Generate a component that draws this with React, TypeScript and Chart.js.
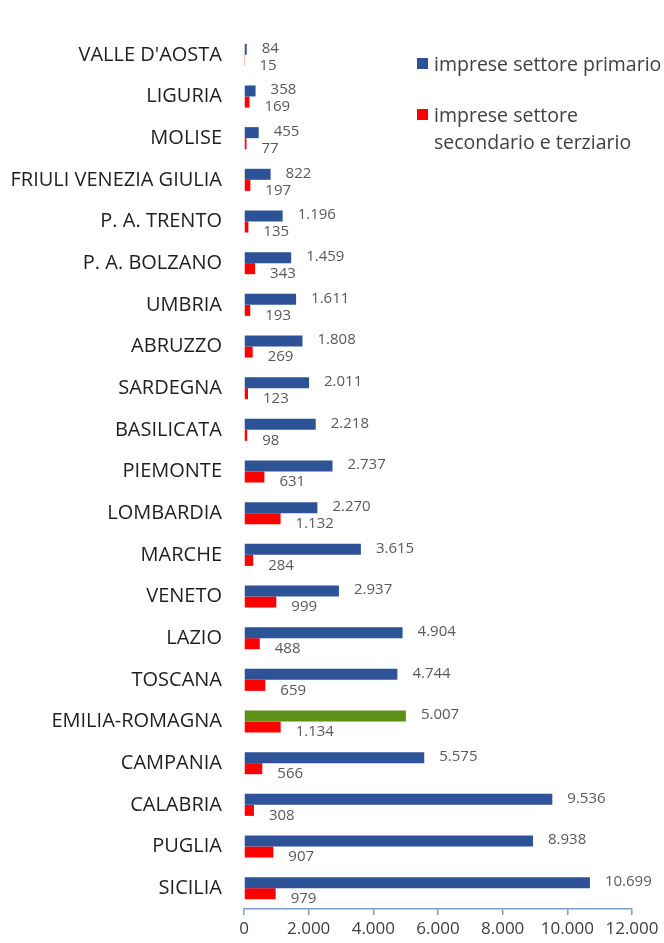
import React, { useEffect, useRef } from "react";
import { Chart, registerables } from "chart.js";

Chart.register(...registerables);

const categories = [
  "VALLE D'AOSTA", "LIGURIA", "MOLISE", "FRIULI VENEZIA GIULIA", "P. A. TRENTO",
  "P. A. BOLZANO", "UMBRIA", "ABRUZZO", "SARDEGNA", "BASILICATA", "PIEMONTE",
  "LOMBARDIA", "MARCHE", "VENETO", "LAZIO", "TOSCANA", "EMILIA-ROMAGNA",
  "CAMPANIA", "CALABRIA", "PUGLIA", "SICILIA",
];
const primario = [84, 358, 455, 822, 1196, 1459, 1611, 1808, 2011, 2218, 2737, 2270, 3615, 2937, 4904, 4744, 5007, 5575, 9536, 8938, 10699];
const secondarioTerziario = [15, 169, 77, 197, 135, 343, 193, 269, 123, 98, 631, 1132, 284, 999, 488, 659, 1134, 566, 308, 907, 979];
const seriesNames = ["imprese settore primario", "imprese settore secondario e terziario"];
const highlighted = "EMILIA-ROMAGNA";
const xTicks = [0, 2000, 4000, 6000, 8000, 10000, 12000];

const BLUE = "#2E5298";
const RED = "#FF0000";
const GREEN = "#5E8F16";
const FONT = "'Open Sans', sans-serif";

function fmt(n: number): string {
  const s = Math.round(n).toString();
  return s.replace(/\B(?=(\d{3})+(?!\d))/g, ".");
}

const dataLabels = {
  id: "dataLabels",
  afterDatasetsDraw(chart: any) {
    const ctx = chart.ctx;
    ctx.save();
    ctx.font = `15px ${FONT}`;
    ctx.fillStyle = "#595959";
    ctx.textAlign = "left";
    ctx.textBaseline = "middle";
    chart.data.datasets.forEach((ds: any, di: number) => {
      const meta = chart.getDatasetMeta(di);
      meta.data.forEach((bar: any, i: number) => {
        const dy = di === 0 ? -1 : 5;
        ctx.fillText(fmt(ds.data[i]), bar.x + 15, bar.y + dy);
      });
    });
    ctx.restore();
  },
};

export default function App() {
  const ref = useRef<HTMLCanvasElement | null>(null);
  useEffect(() => {
    if (!ref.current) return;
    const chart = new Chart(ref.current, {
      type: "bar",
      data: {
        labels: categories,
        datasets: [
          {
            label: seriesNames[0],
            data: primario,
            backgroundColor: categories.map((c) => (c === highlighted ? GREEN : BLUE)),
            categoryPercentage: 0.53,
            barPercentage: 1,
          },
          {
            label: seriesNames[1],
            data: secondarioTerziario,
            backgroundColor: RED,
            categoryPercentage: 0.53,
            barPercentage: 1,
          },
        ],
      },
      options: {
        indexAxis: "y",
        animation: false,
        responsive: true,
        maintainAspectRatio: false,
        layout: { padding: { top: 2, right: 32, left: 0, bottom: 0 } },
        plugins: { legend: { display: false }, tooltip: { enabled: false } },
        scales: {
          x: {
            min: 0,
            max: 12000,
            afterBuildTicks: (s: any) => {
              s.ticks = xTicks.map((v) => ({ value: v }));
            },
            afterFit: (s: any) => {
              s.height = 34;
            },
            grid: {
              display: true,
              drawOnChartArea: false,
              drawTicks: true,
              tickLength: 6,
              color: "#7E9BC8",
              lineWidth: 1.5,
            },
            border: { display: true, color: "#7E9BC8", width: 1.5 },
            ticks: {
              padding: 4,
              color: "#404040",
              font: { family: FONT, size: 17 },
              callback: (v: any) => fmt(Number(v)),
            },
          },
          y: {
            afterFit: (s: any) => {
              s.width = 244;
            },
            grid: { display: false, drawTicks: false },
            border: { display: false },
            ticks: {
              padding: 22,
              color: "#1F1F1F",
              font: { family: FONT, size: 20 },
            },
          },
        },
      },
      plugins: [dataLabels],
    });
    return () => chart.destroy();
  }, []);

  const legendText: React.CSSProperties = {
    fontFamily: FONT,
    fontSize: 19.5,
    color: "#404040",
    lineHeight: "27px",
    whiteSpace: "nowrap",
  };

  return (
    <div style={{ position: "absolute", left: 0, top: 0, width: 664, height: 943, background: "#fff", overflow: "hidden" }}>
      <canvas ref={ref} />
      <div style={{ position: "absolute", left: 417, top: 50, width: 260 }}>
        <div style={{ display: "flex", alignItems: "flex-start" }}>
          <span style={{ width: 11, height: 11, background: BLUE, marginTop: 8, marginRight: 6, flex: "none" }} />
          <span style={legendText}>{seriesNames[0]}</span>
        </div>
        <div style={{ display: "flex", alignItems: "flex-start", marginTop: 24 }}>
          <span style={{ width: 11, height: 11, background: RED, marginTop: 8, marginRight: 6, flex: "none" }} />
          <span style={legendText}>
            imprese settore
            <br />
            secondario e terziario
          </span>
        </div>
      </div>
    </div>
  );
}
